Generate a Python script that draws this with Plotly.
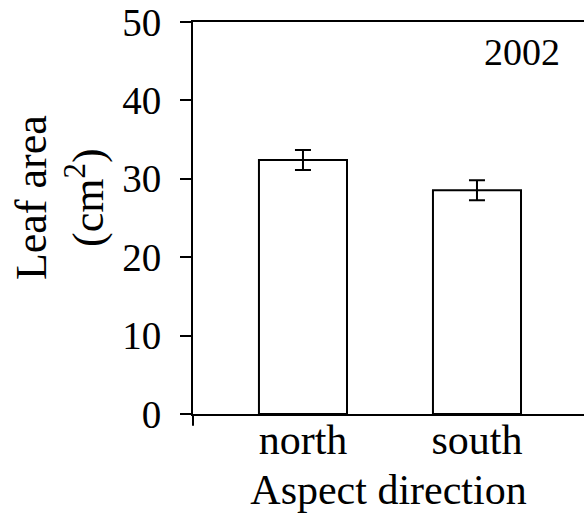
import plotly.graph_objects as go

categories = ["north", "south"]
leaf_area = [32.4, 28.55]
errors = [1.27, 1.28]
y_ticks = [0, 10, 20, 30, 40, 50]
year_label = "2002"
y_title = "Leaf area<br>(cm<sup>2</sup>)"
x_title = "Aspect direction"

FONT = "Liberation Serif"

fig = go.Figure(go.Bar(
    x=categories, y=leaf_area,
    width=0.506,
    marker=dict(color="white", line=dict(color="black", width=2)),
    error_y=dict(type="data", array=errors, visible=True, color="black",
                 thickness=2, width=8),
))

fig.update_layout(
    width=584, height=518,
    margin=dict(l=193, r=0, t=22, b=104, autoexpand=False),
    plot_bgcolor="white", paper_bgcolor="white",
    font=dict(family=FONT, size=41, color="black"),
    showlegend=False,
    xaxis=dict(
        range=[-0.632, 1.615], automargin=False,
        showline=True, linecolor="black", linewidth=2, mirror=True,
        ticks="", showgrid=False, zeroline=False,
        tickfont=dict(size=42, family=FONT), ticklabelstandoff=-12,
        title=dict(text=x_title, font=dict(size=42, family=FONT), standoff=12),
    ),
    yaxis=dict(
        range=[0, 50], tickvals=y_ticks, automargin=False,
        showline=True, linecolor="black", linewidth=2,
        ticks="outside", ticklen=11, tickwidth=2, tickcolor="black",
        showgrid=False, zeroline=False, ticklabeloverflow="allow",
        tickfont=dict(size=39, family=FONT), ticklabelstandoff=11,
    ),
    annotations=[
        dict(text=year_label, x=0.841, y=0.923, xref="paper", yref="paper",
             xanchor="center", yanchor="middle",
             showarrow=False, font=dict(size=38, family=FONT)),
        dict(text=y_title, x=-0.340, y=0.551, xref="paper", yref="paper",
             textangle=-90, showarrow=False, xanchor="center", yanchor="middle",
             font=dict(size=44, family=FONT)),
    ],
    shapes=[dict(type="line", xref="paper", yref="paper", x0=0, x1=0, y0=0, y1=-0.03,
                 line=dict(color="black", width=2))],
)

fig.write_html("out.html", config={"displayModeBar": False},
               post_script="document.body.style.margin='0';document.body.style.overflow='hidden';")
